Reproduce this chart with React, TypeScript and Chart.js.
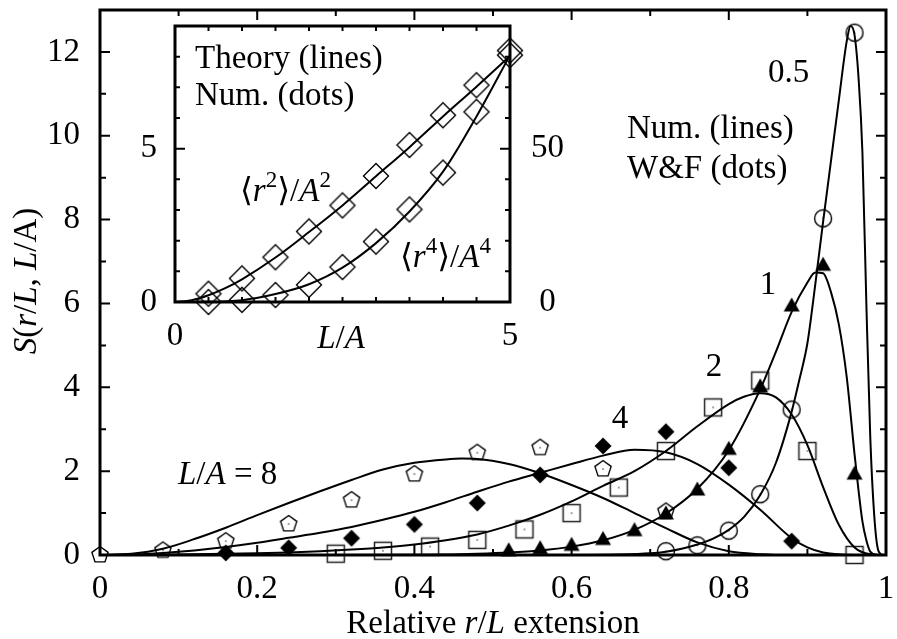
import React, { useEffect, useRef } from 'react';
import { Chart, registerables } from 'chart.js';

Chart.register(...registerables);

const FONT = '"Liberation Serif", "Times New Roman", "DejaVu Serif", "DejaVu Sans", serif';
const FS = 33;

// ---------- Main chart: numerical curves (lines) ----------
const c8X = [0, 0.04, 0.08, 0.12, 0.16, 0.2, 0.24, 0.28, 0.32, 0.36, 0.4, 0.44, 0.46, 0.48, 0.52, 0.56, 0.6, 0.64, 0.68, 0.72, 0.76, 0.8, 0.84, 0.88, 0.92, 1.0];
const c8Y = [0, 0.03, 0.15, 0.38, 0.65, 0.95, 1.24, 1.52, 1.79, 2.04, 2.2, 2.28, 2.3, 2.29, 2.17, 1.95, 1.67, 1.36, 1.0, 0.64, 0.3, 0.09, 0.02, 0.0, 0.0, 0];

const c4X = [0, 0.04, 0.08, 0.12, 0.16, 0.2, 0.24, 0.28, 0.32, 0.36, 0.4, 0.44, 0.48, 0.52, 0.56, 0.6, 0.64, 0.68, 0.72, 0.76, 0.8, 0.84, 0.88, 0.9, 0.92, 0.96, 1.0];
const c4Y = [0, 0.01, 0.05, 0.11, 0.19, 0.29, 0.41, 0.53, 0.67, 0.84, 1.03, 1.26, 1.51, 1.75, 1.96, 2.17, 2.37, 2.51, 2.45, 2.17, 1.68, 1.08, 0.4, 0.18, 0.06, 0.0, 0];

const c2X = [0, 0.1, 0.2, 0.24, 0.28, 0.32, 0.36, 0.4, 0.44, 0.48, 0.52, 0.56, 0.6, 0.64, 0.68, 0.72, 0.76, 0.8, 0.82, 0.84, 0.86, 0.88, 0.9, 0.92, 0.94, 0.96, 0.98, 1.0];
const c2Y = [0, 0.01, 0.04, 0.06, 0.09, 0.13, 0.18, 0.25, 0.35, 0.49, 0.7, 0.96, 1.28, 1.65, 2.0, 2.48, 3.07, 3.6, 3.78, 3.86, 3.76, 3.35, 2.62, 1.62, 0.72, 0.18, 0.02, 0];

const c1X = [0, 0.3, 0.4, 0.44, 0.48, 0.52, 0.56, 0.6, 0.64, 0.68, 0.72, 0.76, 0.8, 0.84, 0.86, 0.88, 0.9, 0.91, 0.92, 0.93, 0.94, 0.95, 0.96, 0.965, 0.97, 0.975, 0.98, 0.99, 1.0];
const c1Y = [0, 0.0, 0.005, 0.01, 0.03, 0.06, 0.11, 0.2, 0.35, 0.6, 0.99, 1.58, 2.5, 3.95, 4.85, 5.8, 6.5, 6.74, 6.72, 6.27, 5.5, 4.25, 2.4, 1.55, 0.8, 0.35, 0.08, 0.0, 0];

const c05X = [0, 0.6, 0.66, 0.7, 0.72, 0.74, 0.76, 0.78, 0.8, 0.82, 0.84, 0.86, 0.88, 0.89, 0.9, 0.91, 0.92, 0.93, 0.94, 0.95, 0.955, 0.96, 0.965, 0.97, 0.975, 0.98, 0.985, 0.99, 0.995, 1.0];
const c05Y = [0, 0, 0.01, 0.04, 0.08, 0.15, 0.25, 0.39, 0.6, 0.92, 1.43, 2.2, 3.42, 4.2, 5.05, 6.45, 7.95, 9.4, 10.85, 12.25, 12.62, 12.4, 11.4, 9.6, 6.0, 2.8, 0.95, 0.12, 0.01, 0];

// ---------- Main chart: W&F points (dots) ----------
const p05X = [0.72, 0.76, 0.8, 0.84, 0.88, 0.92, 0.96];
const p05Y = [0.09, 0.23, 0.58, 1.45, 3.47, 8.03, 12.46];
const p1X = [0.52, 0.56, 0.6, 0.64, 0.68, 0.72, 0.76, 0.8, 0.84, 0.88, 0.92, 0.96];
const p1Y = [0.1, 0.15, 0.23, 0.37, 0.58, 0.98, 1.55, 2.52, 4.01, 5.94, 6.91, 1.93];
const p2X = [0.3, 0.36, 0.42, 0.48, 0.54, 0.6, 0.66, 0.72, 0.78, 0.84, 0.9, 0.96];
const p2Y = [0.03, 0.1, 0.2, 0.36, 0.61, 1.0, 1.61, 2.48, 3.52, 4.16, 2.48, 0.0];
const p4X = [0.16, 0.24, 0.32, 0.4, 0.48, 0.56, 0.64, 0.72, 0.8, 0.88];
const p4Y = [0.05, 0.17, 0.4, 0.73, 1.24, 1.91, 2.6, 2.94, 2.08, 0.33];
const p8X = [0, 0.08, 0.16, 0.24, 0.32, 0.4, 0.48, 0.56, 0.64, 0.72];
const p8Y = [0.0, 0.11, 0.33, 0.74, 1.31, 1.93, 2.44, 2.56, 2.05, 1.04];

// ---------- Inset: theory lines and numerical dots ----------
const r2LineX = [0, 0.25, 0.5, 0.75, 1, 1.5, 2, 2.5, 3, 3.5, 4, 4.5, 5];
const r2LineY = [0, 0.06, 0.22, 0.45, 0.74, 1.45, 2.28, 3.15, 4.1, 5.05, 6.05, 7.02, 8.02];
const r4LineX = [0, 0.5, 1, 1.5, 2, 2.5, 3, 3.5, 4, 4.5, 5];
const r4LineY = [0, 0.06, 0.6, 2.6, 5.8, 11.2, 19.2, 29.5, 42.5, 60.5, 80.5];
const dotsX = [0.5, 1, 1.5, 2, 2.5, 3, 3.5, 4, 4.5, 5];
const r2DotsY = [0.27, 0.77, 1.46, 2.3, 3.15, 4.11, 5.12, 6.09, 7.07, 8.2];
const r4DotsY = [0.0, 0.7, 2.3, 5.6, 11.4, 19.7, 30.2, 42.2, 62.0, 80.5];

// tick label values
const mainXLabels = [0, 0.2, 0.4, 0.6, 0.8, 1];
const mainYLabels = [0, 2, 4, 6, 8, 10, 12];
const insetXLabels = [0, 5];
const insetYLabels = [0, 5];
const insetY2Labels = [0, 50];

type Seg = { t: string; i?: boolean; s?: boolean };

const zip = (xs: number[], ys: number[]) => xs.map((x, k) => ({ x, y: ys[k] }));
const near = (list: number[], v: number) => list.some((l) => Math.abs(l - v) < 1e-6);

function segFont(seg: Seg, size: number) {
  return `${seg.i ? 'italic ' : ''}${seg.s ? Math.round(size * 0.7) : size}px ${FONT}`;
}
function richWidth(ctx: CanvasRenderingContext2D, segs: Seg[], size: number) {
  let w = 0;
  for (const s of segs) {
    ctx.font = segFont(s, size);
    w += ctx.measureText(s.t).width;
  }
  return w;
}
function drawRich(ctx: CanvasRenderingContext2D, segs: Seg[], x: number, y: number, size: number, align: 'left' | 'center' = 'left') {
  ctx.save();
  ctx.fillStyle = '#000';
  ctx.textBaseline = 'alphabetic';
  ctx.textAlign = 'left';
  let cx = align === 'center' ? x - richWidth(ctx, segs, size) / 2 : x;
  for (const s of segs) {
    ctx.font = segFont(s, size);
    ctx.fillText(s.t, cx, s.s ? y - size * 0.42 : y);
    cx += ctx.measureText(s.t).width;
  }
  ctx.restore();
}

function mk(size: number, draw: (c: CanvasRenderingContext2D, m: number) => void) {
  const cv = document.createElement('canvas');
  cv.width = size;
  cv.height = size;
  const c = cv.getContext('2d')!;
  c.strokeStyle = '#000';
  c.fillStyle = '#000';
  draw(c, size / 2);
  return cv;
}
function centerDot(c: CanvasRenderingContext2D, m: number) {
  c.fillRect(m - 0.6, m - 0.6, 1.2, 1.2);
}

function tickPlugin(id: string, cfg: { axes: { key: string; sides: ('low' | 'high')[]; major: (v: number) => boolean }[]; majorLen: number; minorLen: number; frame: number }) {
  return {
    id,
    beforeDatasetsDraw(chart: any) {
      const ctx = chart.ctx as CanvasRenderingContext2D;
      const a = chart.chartArea;
      ctx.save();
      ctx.strokeStyle = '#000';
      ctx.lineWidth = 2;
      ctx.beginPath();
      for (const ax of cfg.axes) {
        const sc = chart.scales[ax.key];
        for (const t of sc.ticks) {
          const p = sc.getPixelForValue(t.value);
          const L = ax.major(t.value) ? cfg.majorLen : cfg.minorLen;
          if (sc.isHorizontal()) {
            if (ax.sides.includes('low')) { ctx.moveTo(p, a.bottom); ctx.lineTo(p, a.bottom - L); }
            if (ax.sides.includes('high')) { ctx.moveTo(p, a.top); ctx.lineTo(p, a.top + L); }
          } else {
            if (ax.sides.includes('low')) { ctx.moveTo(a.left, p); ctx.lineTo(a.left + L, p); }
            if (ax.sides.includes('high')) { ctx.moveTo(a.right, p); ctx.lineTo(a.right - L, p); }
          }
        }
      }
      ctx.stroke();
      ctx.lineWidth = cfg.frame;
      ctx.strokeRect(a.left, a.top, a.right - a.left, a.bottom - a.top);
      ctx.restore();
    },
  };
}

function textPlugin(id: string, items: { segs: Seg[]; x: number; y: number; align?: 'left' | 'center'; rot?: boolean }[]) {
  return {
    id,
    afterDraw(chart: any) {
      const ctx = chart.ctx as CanvasRenderingContext2D;
      for (const it of items) {
        if (it.rot) {
          ctx.save();
          ctx.translate(it.x, it.y);
          ctx.rotate(-Math.PI / 2);
          drawRich(ctx, it.segs, 0, 0, FS, it.align || 'left');
          ctx.restore();
        } else {
          drawRich(ctx, it.segs, it.x, it.y, FS, it.align || 'left');
        }
      }
    },
  };
}

const tickFont = { family: FONT, size: FS };

export default function App() {
  const mainRef = useRef<HTMLCanvasElement>(null);
  const insetRef = useRef<HTMLCanvasElement>(null);

  useEffect(() => {
    const circle = mk(22, (c, m) => { c.lineWidth = 1.4; c.beginPath(); c.arc(m, m, 8.5, 0, Math.PI * 2); c.stroke(); centerDot(c, m); });
    const square = mk(22, (c, m) => { c.lineWidth = 1.5; c.strokeStyle = '#222'; c.strokeRect(m - 8.5, m - 8.5, 17, 17); centerDot(c, m); });
    const diamondF = mk(22, (c, m) => { c.beginPath(); c.moveTo(m, m - 8.5); c.lineTo(m + 8.5, m); c.lineTo(m, m + 8.5); c.lineTo(m - 8.5, m); c.closePath(); c.fill(); });
    const triangleF = mk(22, (c, m) => { c.beginPath(); c.moveTo(m, m - 8.5); c.lineTo(m + 8, m + 5.5); c.lineTo(m - 8, m + 5.5); c.closePath(); c.fill(); });
    const pentagon = mk(22, (c, m) => {
      c.lineWidth = 1.4;
      c.beginPath();
      for (let k = 0; k < 5; k++) {
        const ang = -Math.PI / 2 + (k * 2 * Math.PI) / 5;
        const px = m + 8.5 * Math.cos(ang), py = m + 8.5 * Math.sin(ang);
        if (k === 0) c.moveTo(px, py); else c.lineTo(px, py);
      }
      c.closePath();
      c.stroke();
      centerDot(c, m);
    });
    const diamondO = mk(30, (c, m) => { c.lineWidth = 1.4; c.beginPath(); c.moveTo(m, m - 12.5); c.lineTo(m + 12.5, m); c.lineTo(m, m + 12.5); c.lineTo(m - 12.5, m); c.closePath(); c.stroke(); });

    const line = (xs: number[], ys: number[], yAxisID = 'y') => ({
      data: zip(xs, ys), showLine: true, pointRadius: 0, borderColor: '#000', borderWidth: 2,
      cubicInterpolationMode: 'monotone', fill: false, yAxisID, clip: false,
    });
    const pts = (xs: number[], ys: number[], style: HTMLCanvasElement, yAxisID = 'y') => ({
      data: zip(xs, ys), showLine: false, pointStyle: style, pointRadius: 9, yAxisID, clip: false,
    });

    const main = new Chart(mainRef.current!, {
      type: 'scatter',
      data: {
        datasets: [
          line(c05X, c05Y), line(c1X, c1Y), line(c2X, c2Y), line(c4X, c4Y), line(c8X, c8Y),
          pts(p05X, p05Y, circle), pts(p1X, p1Y, triangleF), pts(p2X, p2Y, square), pts(p4X, p4Y, diamondF), pts(p8X, p8Y, pentagon),
        ] as any,
      },
      options: {
        animation: false,
        responsive: false,
        events: [],
        layout: { padding: { top: 6, right: 11, left: 0, bottom: 0 } },
        plugins: { legend: { display: false }, tooltip: { enabled: false } },
        scales: {
          x: {
            type: 'linear', min: 0, max: 1,
            border: { display: false },
            grid: { display: false, drawTicks: false },
            ticks: {
              stepSize: 0.1, autoSkip: false, maxRotation: 0, padding: 15, color: '#000', font: tickFont,
              callback: (v: any) => (near(mainXLabels, Number(v)) ? String(Math.round(Number(v) * 10) / 10) : ''),
            },
            afterFit: (s: any) => { s.height = 84; s.paddingLeft = 0; s.paddingRight = 0; },
          },
          y: {
            type: 'linear', min: 0, max: 13,
            border: { display: false },
            grid: { display: false, drawTicks: false },
            ticks: {
              stepSize: 1, autoSkip: false, padding: 20, color: '#000', font: tickFont,
              callback: (v: any) => (near(mainYLabels, Number(v)) ? String(v) : ''),
            },
            afterFit: (s: any) => { s.width = 100; s.paddingTop = 0; s.paddingBottom = 0; },
          },
        },
      } as any,
      plugins: [
        tickPlugin('mainTicks', {
          axes: [
            { key: 'x', sides: ['low', 'high'], major: (v) => near(mainXLabels, v) },
            { key: 'y', sides: ['low', 'high'], major: (v) => near(mainYLabels, v) },
          ],
          majorLen: 10, minorLen: 6, frame: 3,
        }),
        textPlugin('mainText', [
          { segs: [{ t: '0.5' }], x: 768, y: 82 },
          { segs: [{ t: 'Num. (lines)' }], x: 627, y: 138 },
          { segs: [{ t: 'W&F (dots)' }], x: 627, y: 178 },
          { segs: [{ t: '1' }], x: 768, y: 294, align: 'center' },
          { segs: [{ t: '2' }], x: 714, y: 376, align: 'center' },
          { segs: [{ t: '4' }], x: 620, y: 428, align: 'center' },
          { segs: [{ t: 'L', i: true }, { t: '/' }, { t: 'A', i: true }, { t: ' = 8' }], x: 178, y: 484 },
          { segs: [{ t: 'Relative ' }, { t: 'r', i: true }, { t: '/' }, { t: 'L', i: true }, { t: ' extension' }], x: 493, y: 633, align: 'center' },
          { segs: [{ t: 'S', i: true }, { t: '(' }, { t: 'r', i: true }, { t: '/' }, { t: 'L', i: true }, { t: ', ' }, { t: 'L', i: true }, { t: '/A)' }], x: 36, y: 281, align: 'center', rot: true },
        ]),
      ] as any,
    });

    const inset = new Chart(insetRef.current!, {
      type: 'scatter',
      data: {
        datasets: [
          line(r2LineX, r2LineY, 'y'), line(r4LineX, r4LineY, 'y2'),
          pts(dotsX, r2DotsY, diamondO, 'y'), pts(dotsX, r4DotsY, diamondO, 'y2'),
        ] as any,
      },
      options: {
        animation: false,
        responsive: false,
        events: [],
        layout: { padding: { top: 10, right: 0, left: 0, bottom: 0 } },
        plugins: { legend: { display: false }, tooltip: { enabled: false } },
        scales: {
          x: {
            type: 'linear', min: 0, max: 5,
            border: { display: false },
            grid: { display: false, drawTicks: false },
            ticks: {
              stepSize: 0.5, autoSkip: false, maxRotation: 0, padding: 15, color: '#000', font: tickFont,
              callback: (v: any) => (near(insetXLabels, Number(v)) ? String(v) : ''),
            },
            afterFit: (s: any) => { s.height = 64; s.paddingLeft = 0; s.paddingRight = 0; },
          },
          y: {
            type: 'linear', position: 'left', min: 0, max: 9,
            border: { display: false },
            grid: { display: false, drawTicks: false },
            ticks: {
              stepSize: 1, autoSkip: false, padding: 18, color: '#000', font: tickFont,
              callback: (v: any) => (near(insetYLabels, Number(v)) ? String(v) : ''),
            },
            afterFit: (s: any) => { s.width = 55; s.paddingTop = 0; s.paddingBottom = 0; },
          },
          y2: {
            type: 'linear', position: 'right', min: 0, max: 90,
            border: { display: false },
            grid: { display: false, drawTicks: false },
            ticks: {
              stepSize: 10, autoSkip: false, padding: 21, crossAlign: 'center', color: '#000', font: tickFont,
              callback: (v: any) => (near(insetY2Labels, Number(v)) ? String(v) : ''),
            },
            afterFit: (s: any) => { s.width = 70; s.paddingTop = 0; s.paddingBottom = 0; },
          },
        },
      } as any,
      plugins: [
        tickPlugin('insetTicks', {
          axes: [
            { key: 'x', sides: ['low', 'high'], major: (v) => near(insetXLabels, v) },
            { key: 'y', sides: ['low'], major: (v) => near(insetYLabels, v) },
            { key: 'y2', sides: ['high'], major: (v) => near(insetY2Labels, v) },
          ],
          majorLen: 10, minorLen: 5, frame: 3,
        }),
        textPlugin('insetText', [
          { segs: [{ t: 'Theory (lines)' }], x: 75, y: 52 },
          { segs: [{ t: 'Num. (dots)' }], x: 75, y: 89 },
          { segs: [{ t: '⟨' }, { t: 'r', i: true }, { t: '2', s: true }, { t: '⟩/' }, { t: 'A', i: true }, { t: '2', s: true }], x: 120, y: 185 },
          { segs: [{ t: '⟨' }, { t: 'r', i: true }, { t: '4', s: true }, { t: '⟩/' }, { t: 'A', i: true }, { t: '4', s: true }], x: 280, y: 251 },
          { segs: [{ t: 'L', i: true }, { t: '/' }, { t: 'A', i: true }], x: 221, y: 332, align: 'center' },
        ]),
      ] as any,
    });

    return () => {
      main.destroy();
      inset.destroy();
    };
  }, []);

  return (
    <div style={{ position: 'fixed', left: 0, top: 0, width: 897, height: 639, background: '#fff' }}>
      <canvas ref={mainRef} width={897} height={639} style={{ position: 'absolute', left: 0, top: 0, width: 897, height: 639 }} />
      <canvas ref={insetRef} width={460} height={350} style={{ position: 'absolute', left: 120, top: 16, width: 460, height: 350 }} />
    </div>
  );
}
